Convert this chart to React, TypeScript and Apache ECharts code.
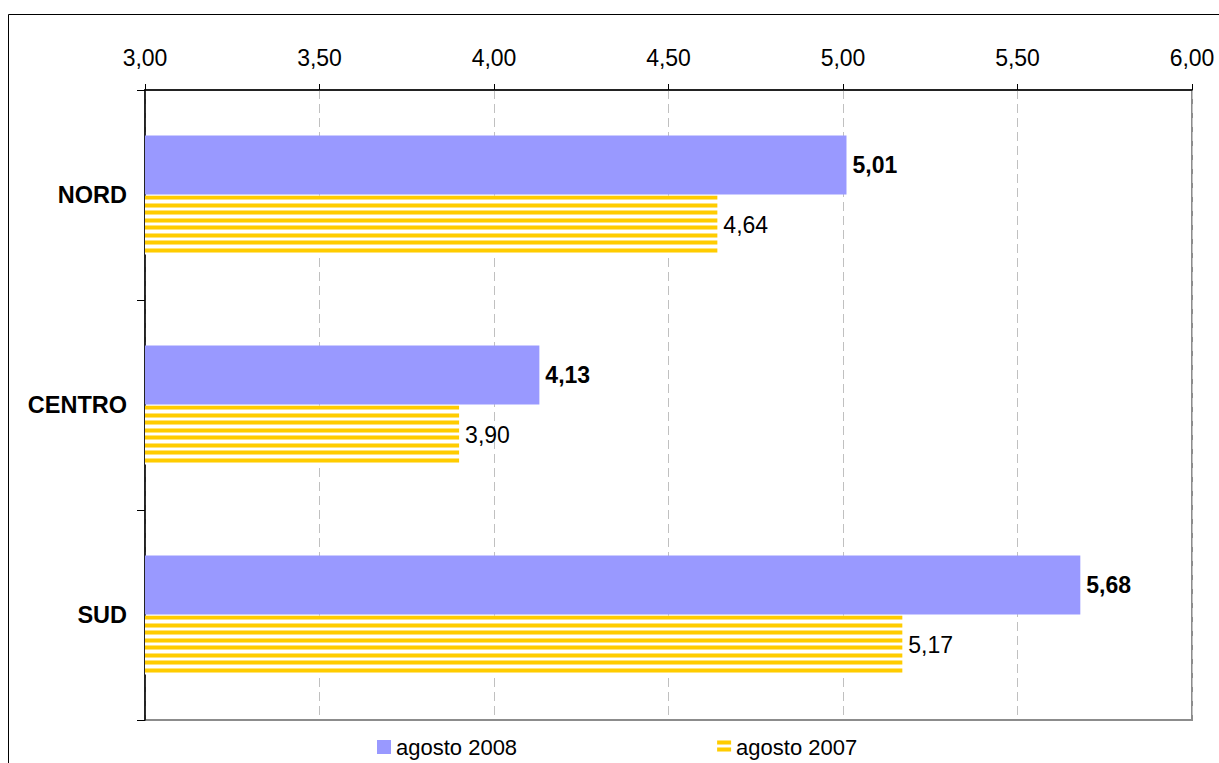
import React, { useEffect, useRef } from "react";
import * as echarts from "echarts";

const categories = ["NORD", "CENTRO", "SUD"];
const agosto2008 = [5.01, 4.13, 5.68];
const agosto2007 = [4.64, 3.9, 5.17];
const seriesNames = ["agosto 2008", "agosto 2007"];
const axisMin = 3;
const axisMax = 6;
const axisStep = 0.5;

const fmt = (v: number) => v.toFixed(2).replace(".", ",");
const FONT = "'Liberation Sans', Arial, sans-serif";

function makeStripes(): HTMLCanvasElement {
  const c = document.createElement("canvas");
  c.width = 4;
  c.height = 15;
  const ctx = c.getContext("2d")!;
  ctx.fillStyle = "#ffffff";
  ctx.fillRect(0, 0, 4, 15);
  const rows: [number, string][] = [
    [0, "#ffe47a"], [1, "#ffcc00"], [2, "#ffcc00"], [3, "#ffcc00"], [4, "#ffe47a"],
    [7, "#ffe47a"], [8, "#ffcc00"], [9, "#ffcc00"], [10, "#ffcc00"], [11, "#ffe47a"],
  ];
  rows.forEach(([y, col]) => {
    ctx.fillStyle = col;
    ctx.fillRect(0, y, 4, 1);
  });
  return c;
}

export default function App() {
  const ref = useRef<HTMLDivElement>(null);
  useEffect(() => {
    if (!ref.current) return;
    document.documentElement.style.overflow = "hidden";
    document.body.style.overflow = "hidden";
    const chart = echarts.init(ref.current, undefined, { renderer: "svg" });
    const stripes = makeStripes();
    chart.setOption({
      animation: false,
      backgroundColor: "#ffffff",
      textStyle: { fontFamily: FONT },
      graphic: [
        {
          type: "rect",
          shape: { x: 0.5, y: 6.5, width: 1400, height: 900 },
          style: { fill: "none", stroke: "#000000", lineWidth: 1 },
          silent: true,
        },
      ],
      grid: {
        left: 137,
        top: 82,
        right: 27,
        bottom: 43,
        show: true,
        borderColor: "#8c8c8c",
        borderWidth: 2,
        backgroundColor: "transparent",
      },
      legend: {
        left: 364,
        top: 723,
        itemWidth: 14,
        itemHeight: 14,
        itemGap: 200,
        icon: "rect",
        textStyle: { fontSize: 22, color: "#000", fontFamily: FONT },
        data: seriesNames,
      },
      xAxis: {
        type: "value",
        position: "top",
        min: axisMin,
        max: axisMax,
        interval: axisStep,
        axisLine: { show: true, lineStyle: { color: "#000", width: 1.5 } },
        axisTick: { show: true, length: 6, lineStyle: { color: "#000" } },
        axisLabel: {
          formatter: (v: number) => fmt(v),
          fontSize: 23,
          color: "#000",
          margin: 21,
          fontFamily: FONT,
        },
        splitLine: {
          show: true,
          lineStyle: { color: "#c0c0c0", type: [9, 5], width: 1 },
        },
      },
      yAxis: {
        type: "category",
        data: categories,
        inverse: true,
        axisLine: { show: true, lineStyle: { color: "#000", width: 1.5 } },
        axisTick: { show: true, length: 8, lineStyle: { color: "#000" } },
        axisLabel: {
          fontSize: 23.5,
          fontWeight: "bold",
          color: "#000",
          margin: 18,
          fontFamily: FONT,
        },
        splitLine: { show: false },
      },
      series: [
        {
          name: seriesNames[0],
          type: "bar",
          data: agosto2008,
          barWidth: 59,
          barGap: "2%",
          itemStyle: { color: "#9999ff" },
          label: {
            show: true,
            position: "right",
            distance: 6,
            formatter: (p: any) => fmt(p.value),
            fontSize: 23,
            fontWeight: "bold",
            color: "#000",
            fontFamily: FONT,
          },
        },
        {
          name: seriesNames[1],
          type: "bar",
          data: agosto2007,
          barWidth: 59,
          barGap: "2%",
          itemStyle: { color: { image: stripes, repeat: "repeat" } },
          label: {
            show: true,
            position: "right",
            distance: 6,
            formatter: (p: any) => fmt(p.value),
            fontSize: 23,
            color: "#000",
            fontFamily: FONT,
          },
        },
      ],
    });
    return () => chart.dispose();
  }, []);
  return (
    <div
      ref={ref}
      style={{ position: "absolute", left: 8, top: 8, width: 1211, height: 755 }}
    />
  );
}
